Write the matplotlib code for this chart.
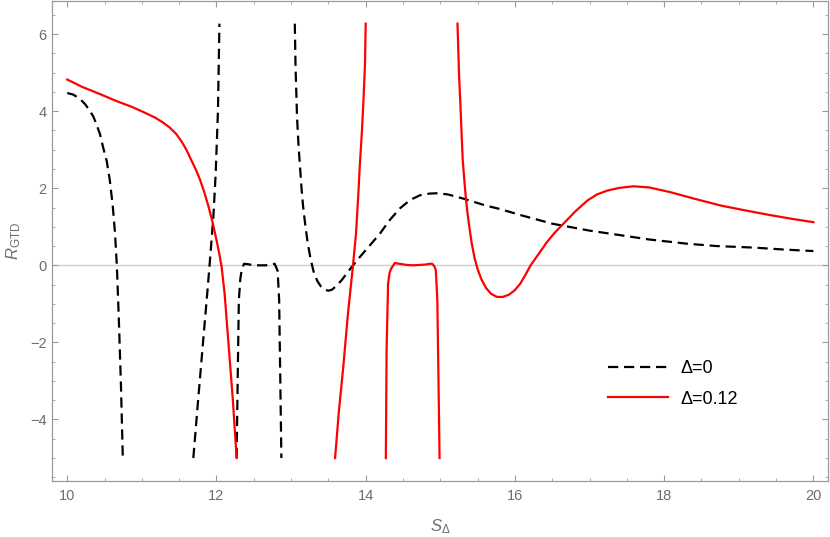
import numpy as np
import matplotlib
matplotlib.use('Agg')
import matplotlib.pyplot as plt
from matplotlib.ticker import MultipleLocator

plt.rcParams['font.family'] = ['Liberation Sans', 'DejaVu Sans']
plt.rcParams['mathtext.fontset'] = 'custom'
plt.rcParams['mathtext.rm'] = 'Liberation Sans'
plt.rcParams['mathtext.it'] = 'Liberation Sans:italic'

# %% data, one list per branch of each curve
# Delta = 0 (black dashed)
d0_x1 = [10.0, 10.08, 10.17, 10.24, 10.30, 10.35, 10.39, 10.44, 10.48, 10.53,
         10.57, 10.61, 10.64, 10.665, 10.69, 10.72, 10.745]
d0_y1 = [4.47, 4.43, 4.32, 4.18, 4.02, 3.86, 3.67, 3.40, 3.07, 2.70,
         2.22, 1.55, 0.85, 0.0, -1.3, -3.1, -5.0]
d0_x2 = [11.69, 11.75, 11.82, 11.88, 11.92, 11.96, 11.99, 12.02, 12.04]
d0_y2 = [-5.0, -3.6, -2.0, -0.65, 0.3, 1.3, 2.4, 4.0, 6.27]
d0_x3 = [12.27, 12.285, 12.30, 12.32, 12.34, 12.37, 12.42, 12.50, 12.58, 12.66,
         12.74, 12.78, 12.80, 12.82, 12.84, 12.855, 12.87]
d0_y3 = [-5.0, -2.9, -0.9, -0.35, -0.1, 0.04, 0.03, 0.0, 0.0, 0.0,
         0.03, 0.04, -0.05, -0.15, -0.9, -2.9, -5.0]
d0_x4 = [13.05, 13.06, 13.08, 13.10, 13.12, 13.14, 13.16, 13.19, 13.22, 13.26,
         13.30, 13.35, 13.40, 13.45, 13.50, 13.55, 13.61, 13.68, 13.75, 13.83,
         13.95, 14.07, 14.19, 14.32, 14.46, 14.60, 14.73, 14.85, 14.95, 15.10,
         15.31, 15.61, 15.80, 16.10, 16.50, 17.00, 17.42, 17.80, 18.31, 18.70,
         19.20, 19.60, 20.00]
d0_y4 = [6.27, 5.14, 3.84, 3.10, 2.55, 2.00, 1.55, 1.05, 0.62, 0.18,
         -0.15, -0.40, -0.55, -0.63, -0.66, -0.63, -0.53, -0.38, -0.20, 0.0,
         0.28, 0.55, 0.82, 1.17, 1.48, 1.70, 1.82, 1.86, 1.87, 1.84,
         1.73, 1.55, 1.46, 1.29, 1.08, 0.90, 0.78, 0.67, 0.56, 0.50,
         0.46, 0.41, 0.37]

# Delta = 0.12 (red)
d12_x1 = [10.0, 10.2, 10.43, 10.65, 10.88, 11.05, 11.18, 11.28, 11.37, 11.46,
          11.53, 11.60, 11.66, 11.72, 11.78, 11.84, 11.90, 11.95, 12.00, 12.04,
          12.07, 12.11, 12.16, 12.22, 12.27]
d12_y1 = [4.82, 4.63, 4.45, 4.27, 4.10, 3.95, 3.83, 3.71, 3.58, 3.41,
          3.22, 2.99, 2.74, 2.50, 2.22, 1.88, 1.48, 1.10, 0.66, 0.28,
          -0.05, -0.75, -2.0, -3.5, -5.0]
d12_x2 = [13.59, 13.64, 13.70, 13.76, 13.83, 13.87, 13.90, 13.92, 13.95, 13.97, 13.99, 14.00]
d12_y2 = [-5.0, -3.8, -2.63, -1.3, 0.0, 0.82, 1.8, 2.55, 3.5, 4.27, 5.2, 6.27]
d12_x3 = [14.27, 14.28, 14.30, 14.32, 14.34, 14.39, 14.45, 14.55, 14.64, 14.72,
          14.80, 14.86, 14.89, 14.92, 14.94, 14.96, 14.975, 14.99]
d12_y3 = [-5.0, -2.2, -0.47, -0.2, -0.09, 0.06, 0.04, 0.01, 0.0, 0.01,
          0.02, 0.04, 0.04, -0.02, -0.13, -0.91, -2.9, -5.0]
d12_x4 = [15.23, 15.24, 15.25, 15.26, 15.27, 15.28, 15.29, 15.30, 15.32, 15.34,
          15.36, 15.39, 15.42, 15.46, 15.50, 15.55, 15.61, 15.68, 15.76, 15.84,
          15.92, 15.99, 16.07, 16.14, 16.21, 16.32, 16.42, 16.53, 16.65, 16.81,
          16.97, 17.10, 17.24, 17.40, 17.59, 17.80, 18.08, 18.40, 18.76, 19.10,
          19.43, 19.73, 20.0]
d12_y4 = [6.27, 5.65, 5.00, 4.55, 4.15, 3.65, 3.20, 2.75, 2.25, 1.80,
          1.42, 0.98, 0.58, 0.18, -0.10, -0.36, -0.58, -0.74, -0.82, -0.82,
          -0.76, -0.66, -0.48, -0.25, 0.0, 0.30, 0.58, 0.84, 1.08, 1.40,
          1.68, 1.84, 1.94, 2.01, 2.05, 2.02, 1.90, 1.73, 1.55, 1.42,
          1.30, 1.20, 1.12]

d0_branches = [(d0_x1, d0_y1), (d0_x2, d0_y2), (d0_x3, d0_y3), (d0_x4, d0_y4)]
d12_branches = [(d12_x1, d12_y1), (d12_x2, d12_y2), (d12_x3, d12_y3), (d12_x4, d12_y4)]
labels = ['Δ=0', 'Δ=0.12']

# %%
frame_c = '#9a9a9a'
text_c = '#6e6e6e'

fig = plt.figure(figsize=(8.3, 5.37), dpi=100)
ax = fig.add_axes([0.063, 0.104, 0.935, 0.895])

ax.axhline(0, color='#cfcfcf', lw=1.0, zorder=1)

for i, (x, y) in enumerate(d0_branches):
    ax.plot(x, y, color='k', lw=1.6, ls=(0, (4.6, 2.6)),
            label=labels[0] if i == 0 else None, zorder=3)
for i, (x, y) in enumerate(d12_branches):
    ax.plot(x, y, color='#ff0000', lw=1.6,
            label=labels[1] if i == 0 else None, zorder=4)

ax.set_xlim(9.8, 20.2)
ax.set_ylim(-5.6, 6.87)

ax.xaxis.set_major_locator(MultipleLocator(2))
ax.xaxis.set_minor_locator(MultipleLocator(0.5))
ax.yaxis.set_major_locator(MultipleLocator(2))
ax.yaxis.set_minor_locator(MultipleLocator(0.5))
ax.tick_params(which='both', direction='in', top=True, right=True,
               color=frame_c, labelcolor=text_c, labelsize=10.5)
ax.tick_params(which='major', length=4.5, width=0.8)
ax.tick_params(which='minor', length=2.5, width=0.6)
ax.tick_params(axis='x', pad=6)
ax.tick_params(axis='y', pad=4)
for s in ax.spines.values():
    s.set_color(frame_c)
    s.set_linewidth(0.9)

ax.set_xlabel(r'$S_{\Delta}$', color=text_c, fontsize=12, labelpad=10)
ax.set_ylabel(r'$R_{\mathrm{GTD}}$', color=text_c, fontsize=12, labelpad=5)

ax.legend(loc='center left', bbox_to_anchor=(0.716, 0.2027), frameon=False,
          fontsize=13, handlelength=3.3, handletextpad=0.7, labelspacing=0.75,
          borderpad=0, borderaxespad=0)

plt.savefig('out.png', dpi=100)
